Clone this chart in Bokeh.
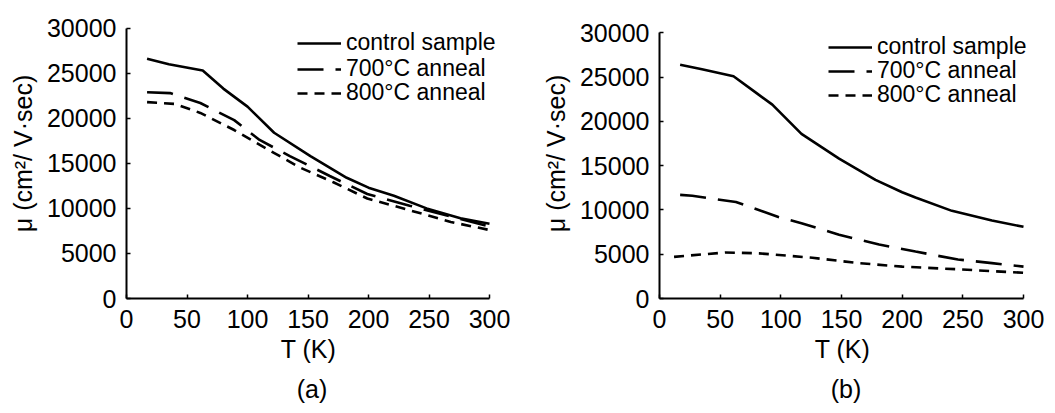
from bokeh.plotting import figure
from bokeh.layouts import row
from bokeh.models import Range1d, FixedTicker, Legend, LegendItem, Title
from bokeh.embed import file_html
from bokeh.resources import INLINE

# ---- data ----
T_ctrl_a = [17, 35, 63, 80, 100, 122, 152, 182, 200, 221, 248, 276, 300]
mu_ctrl_a = [26600, 26000, 25300, 23300, 21300, 18400, 15800, 13400, 12300, 11400, 10000, 8900, 8300]
T_700_a = [17, 36, 61, 89, 110, 135, 168, 199, 234, 268, 300]
mu_700_a = [22900, 22800, 21700, 19800, 17600, 15800, 13600, 11600, 10300, 9100, 8000]
T_800_a = [17, 40, 61, 89, 116, 144, 171, 199, 234, 268, 300]
mu_800_a = [21800, 21600, 20600, 18700, 16600, 14500, 12900, 11100, 9800, 8500, 7600]

T_ctrl_b = [17, 35, 61, 80, 93, 117, 148, 178, 200, 211, 241, 274, 300]
mu_ctrl_b = [26400, 25900, 25100, 23200, 21900, 18600, 15800, 13400, 12000, 11400, 9900, 8800, 8100]
T_700_b = [17, 27, 63, 98, 117, 148, 181, 211, 246, 274, 300]
mu_700_b = [11700, 11600, 10900, 9200, 8500, 7200, 6100, 5300, 4400, 4000, 3600]
T_800_b = [12, 54, 82, 126, 164, 200, 246, 300]
mu_800_b = [4700, 5200, 5100, 4600, 4000, 3600, 3300, 2900]

x_ticks = [0, 50, 100, 150, 200, 250, 300]
y_ticks = [0, 5000, 10000, 15000, 20000, 25000, 30000]
labels = ["control sample", "700\u00b0C anneal", "800\u00b0C anneal"]
captions = ["(a)", "(b)"]

FONT = "Liberation Sans"
FS = "25px"
LEG_FS = "23px"
ROW_H = 27


def make_panel(series, caption, fig_w, fig_h, px0, px300, py0, py30k, fr_right, fr_top,
               leg_x, leg_rows, cap_off):
    # pixel geometry -> ranges (axis drawn only on 0..300 / 0..30000 via bounds)
    kx = (px300 - px0) / 300.0
    ky = (py0 - py30k) / 30000.0
    x_end = 300 + (fr_right - px300) / kx
    y_end = 30000 + (py30k - fr_top) / ky
    p = figure(width=fig_w, height=fig_h,
               output_backend="svg", toolbar_location=None,
               x_range=Range1d(0, x_end), y_range=Range1d(0, y_end),
               min_border_left=px0, min_border_right=fig_w - fr_right,
               min_border_top=fr_top, min_border_bottom=fig_h - py0)
    p.outline_line_color = None
    p.grid.visible = False
    p.background_fill_color = "white"
    p.border_fill_color = "white"
    for ax in (p.xaxis[0], p.yaxis[0]):
        ax.axis_line_width = 2
        ax.axis_line_color = "black"
        ax.major_tick_in = 4
        ax.major_tick_out = 0
        ax.major_tick_line_width = 1.5
        ax.minor_tick_line_color = None
        ax.major_label_text_font = FONT
        ax.major_label_text_font_size = FS
        ax.major_label_text_color = "black"
        ax.axis_label_text_font = FONT
        ax.axis_label_text_font_size = FS
        ax.axis_label_text_font_style = "normal"
        ax.axis_label_text_color = "black"
    p.xaxis.bounds = (0, 300)
    p.yaxis.bounds = (0, 30000)
    p.xaxis.ticker = FixedTicker(ticks=x_ticks)
    p.yaxis.ticker = FixedTicker(ticks=y_ticks)
    p.xaxis.major_label_standoff = 11
    p.yaxis.major_label_standoff = 10
    p.xaxis.axis_label = "T  (K)"
    p.xaxis.axis_label_standoff = 4
    p.yaxis.axis_label = "\u03bc (cm\u00b2/ V\u00b7sec)"
    p.yaxis.axis_label_standoff = 7

    dashes = ["solid", "26 12", "10 7"]
    for (xs, ys), lab, d, rc in zip(series, labels, dashes, leg_rows):
        r = p.line(xs, ys, line_color="black", line_width=2.6, line_dash=d)
        leg = Legend(items=[LegendItem(label=lab, renderers=[r])],
                     location=(leg_x, int(round(py0 - rc - ROW_H / 2))),
                     glyph_width=44, glyph_height=18, label_height=18,
                     label_standoff=5, spacing=0, padding=0, margin=0,
                     label_text_font=FONT, label_text_font_size=LEG_FS,
                     label_text_color="black",
                     border_line_alpha=0, background_fill_alpha=0)
        p.add_layout(leg)
    t = Title(text=caption, align="center", offset=cap_off, text_font=FONT,
              text_font_size=FS, text_font_style="normal", text_color="black",
              standoff=14)
    p.add_layout(t, "below")
    return p


pa = make_panel([(T_ctrl_a, mu_ctrl_a), (T_700_a, mu_700_a), (T_800_a, mu_800_a)],
                captions[0], 527, 413, 126, 489, 298, 24, 497, 4,
                171, [43, 68, 92], -6)
pb = make_panel([(T_ctrl_b, mu_ctrl_b), (T_700_b, mu_700_b), (T_800_b, mu_800_b)],
                captions[1], 528, 413, 132, 496, 305, 33, 505, 8,
                169, [53, 78, 102], -13)

layout = row(pa, pb)
open("out.html", "w").write(file_html(layout, INLINE))
